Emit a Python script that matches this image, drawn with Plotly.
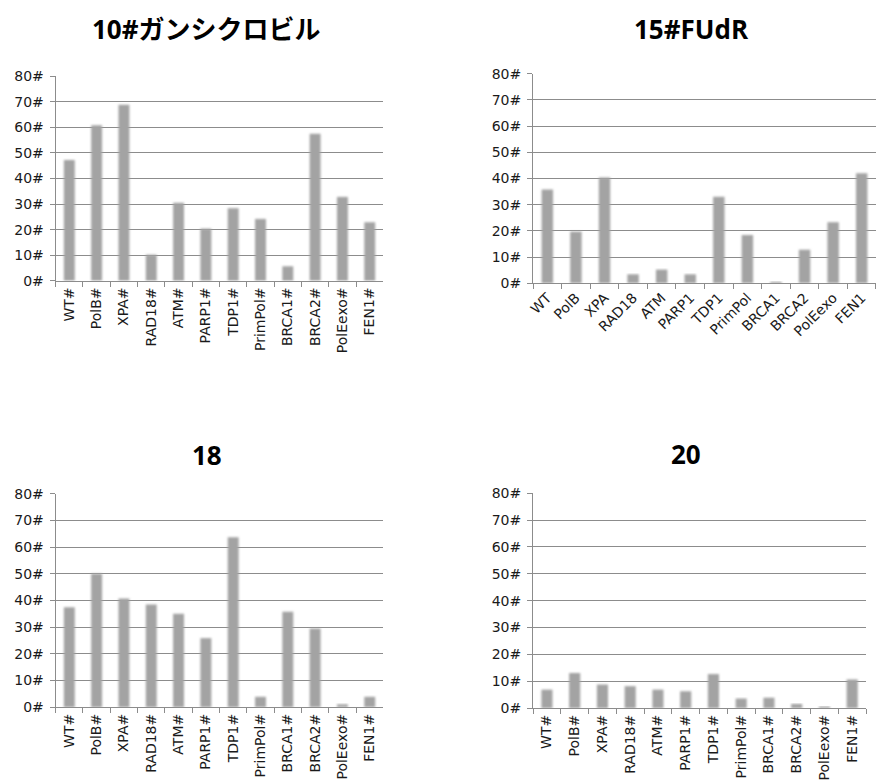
import plotly.graph_objects as go

# Cell-line categories shared by all four panels
genes = ["WT", "PolB", "XPA", "RAD18", "ATM", "PARP1", "TDP1",
         "PrimPol", "BRCA1", "BRCA2", "PolEexo", "FEN1"]

# Panel titles
titles = ["10#ガンシクロビル", "15#FUdR", "18", "20"]

# Series values per panel
vals_10 = [47.2, 60.8, 68.8, 10.2, 30.5, 20.4, 28.4, 24.2, 5.7, 57.5, 32.8, 22.9]
vals_15 = [35.8, 19.7, 40.4, 3.4, 5.2, 3.4, 33.0, 18.4, 0.3, 12.8, 23.3, 42.0]
vals_18 = [37.5, 50.0, 40.8, 38.5, 35.0, 25.9, 63.7, 3.9, 35.8, 29.5, 1.1, 3.9]
vals_20 = [6.9, 13.1, 8.8, 8.2, 6.9, 6.3, 12.7, 3.6, 3.9, 1.6, 0.7, 10.7]

# x tick labels: most panels carry a trailing '#'
labels_hash = [g + "#" for g in genes]
labels_plain = genes

W, H = 876, 781
BAR = "#a3a3a3"
GRID = "#8c8c8c"
TXT = "#1a1a1a"
TICKFONT = "DejaVu Sans, sans-serif"
TITLEFONT = "Open Sans, Noto Sans CJK JP, sans-serif"


def px(x):
    return x / W


def py(y):
    return 1 - y / H


# (values, tick labels, x px range, y px of 0 and 80, rotation, title px pos)
panels = [
    (vals_10, labels_hash, (50, 380), (279.3, 69.7), -90, (202, 22)),
    (vals_15, labels_plain, (530.7, 876), (281.7, 67.3), -45, (690, 21)),
    (vals_18, labels_hash, (50, 380), (715.7, 497.3), -90, (202, 458)),
    (vals_20, labels_hash, (530.7, 866), (716.7, 496.7), -90, (685, 457)),
]

fig = go.Figure()
layout = dict(
    width=W, height=H,
    margin=dict(l=0, r=0, t=0, b=0),
    paper_bgcolor="white", plot_bgcolor="white",
    showlegend=False, bargap=0.6,
    font=dict(family=TICKFONT, color=TXT, size=14),
    annotations=[],
)

for i, (vals, labs, (x0, x1), (y0, y80), rot, (tx, ty)) in enumerate(panels):
    n = "" if i == 0 else str(i + 1)
    fig.add_trace(go.Bar(
        x=labs, y=vals, marker=dict(color=BAR, line=dict(width=0)),
        xaxis="x" + n, yaxis="y" + n, hoverinfo="x+y",
    ))
    layout["xaxis" + n] = dict(
        domain=[px(x0), px(x1)], anchor="y" + n,
        type="category", tickangle=rot, tickson="boundaries",
        ticks="outside", ticklen=5, tickcolor=GRID,
        showline=True, linecolor=GRID, linewidth=1,
        showgrid=False, tickfont=dict(size=14, color=TXT, family=TICKFONT),
        fixedrange=True,
    )
    layout["yaxis" + n] = dict(
        domain=[py(y0), py(y80)], anchor="x" + n,
        range=[0, 80], dtick=10, ticksuffix="#",
        ticks="outside", ticklen=5, tickcolor=GRID,
        ticklabelstandoff=3,
        showline=True, linecolor=GRID, linewidth=1,
        showgrid=True, gridcolor=GRID, gridwidth=1,
        zeroline=False, tickfont=dict(size=14, color=TXT, family=TICKFONT),
        fixedrange=True,
    )
    layout["annotations"].append(dict(
        text="<b>" + titles[i] + "</b>", x=px(tx), y=py(ty),
        xref="paper", yref="paper", xanchor="center", yanchor="middle",
        showarrow=False, font=dict(size=26, color="black", family=TITLEFONT),
    ))

fig.update_layout(**layout)

# Soften the bar edges with a small gaussian blur
soften = """
var gd = document.querySelector('.plotly-graph-div');
var svg = gd.querySelector('svg.main-svg');
var ns = 'http://www.w3.org/2000/svg';
var defs = svg.querySelector('defs') || svg.insertBefore(document.createElementNS(ns, 'defs'), svg.firstChild);
var f = document.createElementNS(ns, 'filter');
f.setAttribute('id', 'barsoft');
f.setAttribute('x', '-50%'); f.setAttribute('y', '-10%');
f.setAttribute('width', '200%'); f.setAttribute('height', '120%');
var b = document.createElementNS(ns, 'feGaussianBlur');
b.setAttribute('stdDeviation', '1.1');
f.appendChild(b); defs.appendChild(f);
gd.querySelectorAll('.bars .point path').forEach(function (p) {
  p.setAttribute('filter', 'url(#barsoft)');
});
"""
fig.write_html("out.html", post_script=soften)
